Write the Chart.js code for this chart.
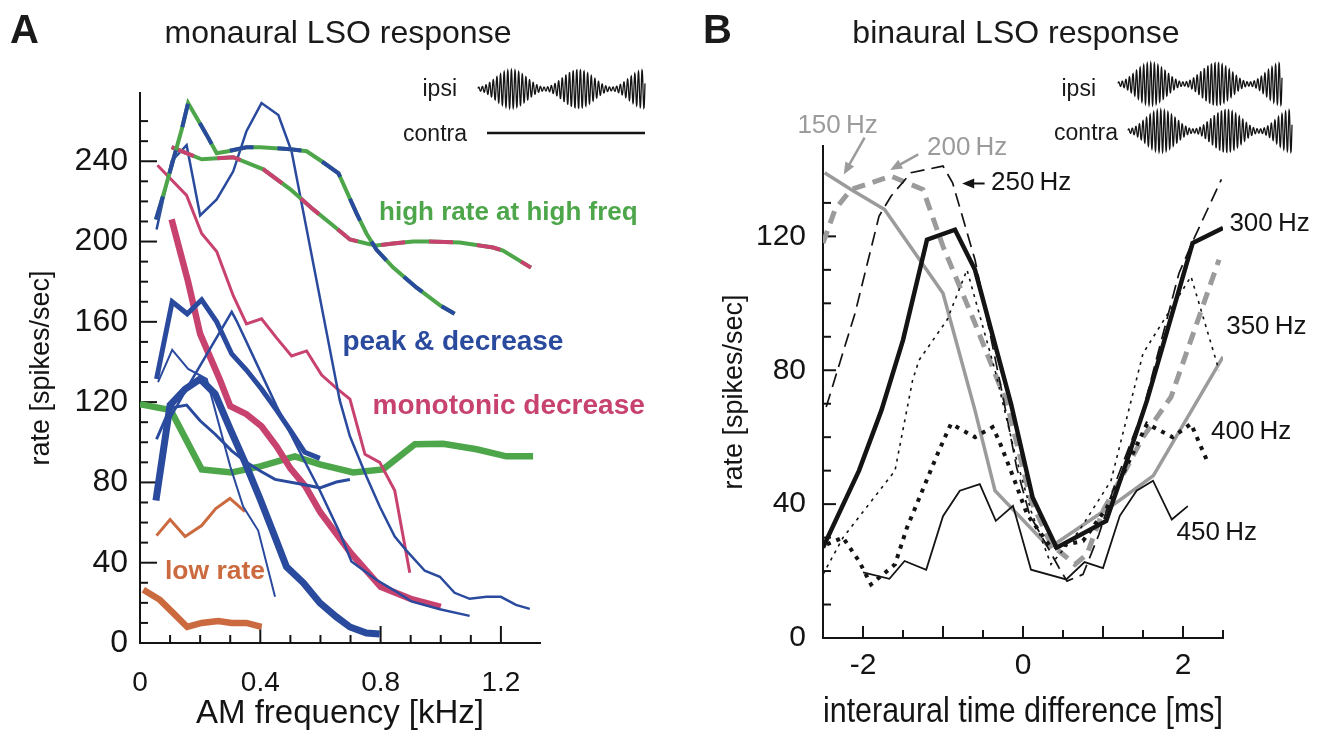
<!DOCTYPE html>
<html>
<head>
<meta charset="utf-8">
<title>LSO response</title>
<script src="https://cdn.jsdelivr.net/npm/chart.js@4.4.1/dist/chart.umd.min.js"></script>
<style>
  body { margin: 0; background: #fff; font-family: 'Liberation Sans', Arial, sans-serif; color: #1a1a1a; }
  #page { position: relative; width: 1324px; height: 730px; overflow: hidden; }
  #chartA, #chartB { position: absolute; top: 0; }
  #chartA { left: 0; }
  #chartB { left: 662px; }
  #waves { position: absolute; left: 0; top: 0; }
  .letter { position: absolute; top: 7px; font-size: 40px; font-weight: bold; }
  .title { position: absolute; top: 14px; font-size: 32px; transform: translateX(-50%); white-space: nowrap; }
  .stim { position: absolute; font-size: 23px; transform: translate(-100%, -50%); white-space: nowrap; }
</style>
</head>
<body>
<div id="page">
  <canvas id="chartA" width="662" height="730"></canvas>
  <canvas id="chartB" width="662" height="730"></canvas>
  <canvas id="waves" width="1324" height="170"></canvas>
  <div class="letter" style="left:10px">A</div>
  <div class="letter" style="left:703px">B</div>
  <div class="title" style="left:338px">monaural LSO response</div>
  <div class="title" style="left:1016px">binaural LSO response</div>
  <div class="stim" style="left:457px; top:88px">ipsi</div>
  <div class="stim" style="left:467px; top:133px">contra</div>
  <div class="stim" style="left:1096px; top:88px">ipsi</div>
  <div class="stim" style="left:1118px; top:132px">contra</div>
</div>
<script>
// ---- panel A : rate vs AM frequency [kHz] ----
const highRateGreenBlue = [[0.053, 211], [0.083, 226], [0.139, 256], [0.16, 269], [0.222, 253], [0.255, 244], [0.293, 245], [0.354, 247], [0.4, 247], [0.5, 246], [0.554, 245], [0.604, 240], [0.66, 234], [0.72, 214], [0.753, 204], [0.786, 196], [0.842, 187], [0.92, 177], [1.0, 168], [1.046, 164]];
const highRateGreenPink = [[0.105, 247], [0.205, 241], [0.31, 242], [0.41, 236], [0.5, 226], [0.576, 216], [0.642, 208], [0.698, 201], [0.753, 199], [0.786, 198], [0.842, 199], [0.908, 200], [0.963, 200], [1.063, 199.5], [1.174, 197], [1.207, 195.5], [1.3, 187]];
const highRateGreen = [[0, 119], [0.102, 116], [0.205, 86.5], [0.305, 85], [0.4, 88], [0.515, 93], [0.598, 89], [0.709, 85], [0.808, 86.5], [0.914, 99], [1.008, 99.3], [1.119, 96.5], [1.218, 93], [1.307, 93]];
const peakThin1 = [[0.055, 206], [0.105, 240], [0.155, 248], [0.2, 213], [0.255, 221], [0.31, 235], [0.354, 255], [0.404, 269], [0.46, 263], [0.504, 245], [0.664, 121], [0.698, 103], [0.753, 83], [0.797, 68], [0.847, 53], [0.886, 46], [0.947, 36], [0.997, 33], [1.046, 25], [1.096, 22], [1.152, 23], [1.2, 23], [1.25, 19], [1.296, 17]];
const peakThick1 = [[0.055, 131.5], [0.107, 170], [0.157, 164], [0.205, 171], [0.255, 160], [0.305, 144], [0.354, 136], [0.404, 126.5], [0.454, 116], [0.504, 105], [0.548, 95], [0.598, 92]];
const peakThick2 = [[0.053, 71], [0.1, 118.5], [0.15, 126.5], [0.2, 131.5], [0.25, 124], [0.3, 106.5], [0.349, 90], [0.4, 71.5], [0.443, 55], [0.487, 38], [0.543, 30], [0.598, 20], [0.653, 13], [0.698, 8], [0.753, 5], [0.797, 4.5]];
const peakThin2 = [[0.06, 130], [0.107, 146], [0.16, 136.5], [0.222, 131.5], [0.3, 88], [0.343, 68], [0.393, 56], [0.449, 23]];
const peakThin3 = [[0.1, 112], [0.16, 128], [0.305, 165], [0.321, 160.5], [0.354, 150], [0.454, 118], [0.532, 95], [0.598, 76], [0.664, 55], [0.703, 40.6], [0.786, 31.5], [0.842, 26.5], [0.903, 20.7], [0.997, 16.8], [1.096, 13.5]];
const peakThin4 = [[0.055, 101.5], [0.1, 117], [0.155, 118.5], [0.2, 110.7], [0.25, 104], [0.305, 95.7], [0.354, 90], [0.4, 85.7], [0.449, 81.5], [0.543, 79], [0.598, 77.3], [0.653, 80.2], [0.698, 81.5]];
const monoThick = [[0.105, 211], [0.16, 180], [0.2, 154], [0.266, 131], [0.3, 118], [0.354, 114], [0.404, 108], [0.454, 98], [0.5, 87], [0.55, 78], [0.6, 65], [0.7, 45], [0.8, 28], [0.9, 22], [1.0, 18]];
const monoThin = [[0.058, 238], [0.155, 223], [0.205, 204], [0.255, 195], [0.31, 173], [0.354, 159], [0.404, 161.5], [0.454, 152], [0.504, 143], [0.554, 145.5], [0.604, 133.5], [0.653, 127], [0.698, 121.5], [0.748, 94], [0.797, 90], [0.847, 76], [0.897, 35]];
const lowRateThin = [[0.055, 53.5], [0.1, 61.5], [0.15, 53], [0.205, 58.5], [0.252, 67], [0.299, 72], [0.349, 65.5]];
const lowRateThick = [[0.011, 26.5], [0.066, 21.5], [0.11, 15], [0.157, 8], [0.205, 10], [0.26, 11], [0.305, 10], [0.354, 10], [0.404, 8]];

// ---- panel B : rate vs interaural time difference [ms] ----
const itd150 = [[-2.48, 139], [-2.15, 134], [-1.73, 128], [-1.0, 103], [-0.6, 68], [-0.35, 44], [0.33, 27], [1.2, 41], [1.63, 48.5], [2.5, 84]];
const itd200 = [[-2.5, 118], [-2.35, 128], [-2.15, 134], [-1.65, 138], [-1.25, 134], [-1.0, 117], [-0.6, 94], [-0.2, 70], [0.1, 41], [0.35, 28], [0.65, 22], [0.8, 25], [1.0, 38], [1.3, 51], [1.5, 60], [1.85, 72], [2.45, 113]];
const itd250 = [[-2.46, 69], [-2.1, 97], [-1.8, 126], [-1.65, 132], [-1.4, 139], [-1.0, 141], [-0.88, 136], [-0.6, 113], [-0.25, 72], [-0.08, 51], [0.08, 37], [0.45, 21], [0.55, 17], [0.75, 19], [0.95, 31], [1.15, 46], [1.5, 68], [1.95, 109], [2.15, 120], [2.48, 137]];
const itd300 = [[-2.5, 27], [-2.05, 50], [-1.77, 68], [-1.5, 89], [-1.2, 119], [-0.85, 122], [-0.6, 110], [-0.15, 70], [0.12, 42], [0.42, 27], [1.04, 35], [1.3, 53], [1.55, 71], [2.12, 118], [2.5, 122.5]];
const itd350 = [[-2.5, 19], [-2.25, 30], [-1.6, 50], [-1.38, 77], [-1.3, 83], [-0.95, 95], [-0.7, 110], [-0.35, 80], [-0.1, 55], [0.1, 38], [0.35, 22], [0.7, 32], [1.1, 47], [1.5, 85], [2.1, 108], [2.45, 80]];
const itd400 = [[-2.45, 28], [-2.25, 30], [-2.05, 23], [-1.9, 16], [-1.6, 22], [-1.45, 33], [-1.05, 56], [-0.9, 64], [-0.6, 60], [-0.38, 63], [-0.3, 59], [-0.12, 48], [0.05, 37], [0.35, 27], [0.75, 29], [1.05, 39], [1.25, 49], [1.55, 64], [1.87, 60], [2.1, 64], [2.3, 53]];
const itd450 = [[-2.0, 19.6], [-1.67, 17.7], [-1.48, 23], [-1.21, 20.4], [-1.0, 36.4], [-0.79, 44], [-0.54, 46], [-0.34, 35], [-0.125, 39.5], [0.1, 20.4], [0.54, 17.5], [0.77, 22.7], [1.0, 20.9], [1.21, 36.5], [1.42, 44], [1.625, 47], [1.86, 35.4], [2.06, 39.4]];

const BLUE = '#2a4a9e', GREEN = '#4da64a', PINK = '#c8426f', ORANGE = '#cc6a3f', GRAY = '#9b9b9b', INK = '#141414';

Chart.defaults.font.family = "'Liberation Sans', Arial, sans-serif";
Chart.defaults.color = INK;

const pts = (arr) => arr.map(p => ({ x: p[0], y: p[1] }));
const isMult = (v, step) => Math.abs(v / step - Math.round(v / step)) < 1e-6;

function line(data, color, width, dash) {
  return {
    data: pts(data),
    borderColor: color,
    borderWidth: width,
    borderDash: dash || [],
    pointRadius: 0,
    fill: false,
    tension: 0
  };
}

// small ticks pointing into the plot, longer at labelled values
const inTicks = {
  id: 'inTicks',
  beforeDatasetsDraw(chart, args, opts) {
    const ctx = chart.ctx;
    const area = chart.chartArea;
    const xs = chart.scales.x;
    const ys = chart.scales.y;
    ctx.save();
    ctx.strokeStyle = INK;
    ctx.lineWidth = 2;
    xs.ticks.forEach(t => {
      const px = xs.getPixelForValue(t.value);
      const len = isMult(t.value, opts.xMajor) ? opts.xLong : opts.xShort;
      ctx.beginPath();
      ctx.moveTo(px, area.bottom);
      ctx.lineTo(px, area.bottom - len);
      ctx.stroke();
    });
    ys.ticks.forEach(t => {
      const py = ys.getPixelForValue(t.value);
      const len = isMult(t.value, opts.yMajor) ? opts.yLong : opts.yShort;
      ctx.beginPath();
      ctx.moveTo(area.left, py);
      ctx.lineTo(area.left + len, py);
      ctx.stroke();
    });
    ctx.restore();
  }
};

// text labels and arrows placed in data coordinates
const notes = {
  id: 'notes',
  afterDatasetsDraw(chart, args, opts) {
    const ctx = chart.ctx;
    const xs = chart.scales.x;
    const ys = chart.scales.y;
    ctx.save();
    (opts.arrows || []).forEach(a => {
      const x0 = xs.getPixelForValue(a.from[0]), y0 = ys.getPixelForValue(a.from[1]);
      const x1 = xs.getPixelForValue(a.to[0]), y1 = ys.getPixelForValue(a.to[1]);
      const ang = Math.atan2(y1 - y0, x1 - x0);
      ctx.strokeStyle = a.color;
      ctx.fillStyle = a.color;
      ctx.lineWidth = a.width;
      ctx.beginPath();
      ctx.moveTo(x0, y0);
      ctx.lineTo(x1 - 8 * Math.cos(ang), y1 - 8 * Math.sin(ang));
      ctx.stroke();
      ctx.beginPath();
      ctx.moveTo(x1, y1);
      ctx.lineTo(x1 - 12 * Math.cos(ang) + 5 * Math.sin(ang), y1 - 12 * Math.sin(ang) - 5 * Math.cos(ang));
      ctx.lineTo(x1 - 12 * Math.cos(ang) - 5 * Math.sin(ang), y1 - 12 * Math.sin(ang) + 5 * Math.cos(ang));
      ctx.closePath();
      ctx.fill();
    });
    (opts.labels || []).forEach(l => {
      ctx.font = l.font;
      ctx.fillStyle = l.color;
      ctx.textAlign = 'left';
      ctx.textBaseline = 'middle';
      ctx.fillText(l.text, xs.getPixelForValue(l.at[0]), ys.getPixelForValue(l.at[1]));
    });
    ctx.restore();
  }
};

function axis(opts) {
  return {
    type: 'linear',
    min: opts.min,
    max: opts.max,
    afterBuildTicks: s => { s.ticks = s.ticks.filter(t => isMult(t.value, opts.step)); },
    afterFit: s => { if (opts.width) s.width = opts.width; if (opts.height) s.height = opts.height; },
    ticks: {
      stepSize: opts.step,
      autoSkip: false,
      maxRotation: 0,
      padding: opts.pad,
      font: { size: opts.tickSize },
      color: INK,
      callback: v => isMult(v, opts.every) ? String(Math.round(v * 10) / 10) : ''
    },
    grid: { display: false, drawTicks: false },
    border: { display: true, color: INK, width: 2 },
    title: { display: true, text: opts.title, font: { size: opts.titleSize, lineHeight: opts.titleLH || 1.2 }, color: INK, padding: opts.titlePad }
  };
}

const boldNote = (size) => 'bold ' + size + 'px "Liberation Sans", Arial, sans-serif';
const bandWidth = 4;
new Chart(document.getElementById('chartA'), {
  type: 'line',
  data: {
    datasets: [
      line(highRateGreenBlue, BLUE, bandWidth, [24, 24]),
      line(highRateGreenBlue, GREEN, bandWidth),
      line(highRateGreenPink, PINK, bandWidth, [24, 24]),
      line(highRateGreenPink, GREEN, bandWidth),
      line(peakThin1, BLUE, 2.5),
      line(peakThick1, BLUE, 5),
      line(peakThin2, BLUE, 2),
      line(peakThin3, BLUE, 2.5),
      line(peakThin4, BLUE, 3),
      line(peakThick2, BLUE, 7),
      line(monoThin, PINK, 3),
      line(monoThick, PINK, 6.5),
      line(highRateGreen, GREEN, 6.5),
      line(lowRateThin, ORANGE, 3),
      line(lowRateThick, ORANGE, 6.5)
    ]
  },
  options: {
    responsive: false,
    animation: false,
    events: [],
    layout: { padding: { top: 93, right: 122, left: 0, bottom: 0 } },
    plugins: {
      legend: { display: false },
      tooltip: { enabled: false },
      inTicks: { xMajor: 0.4, xLong: 17, xShort: 8, yMajor: 40, yLong: 17, yShort: 8 },
      notes: {
        labels: [
          { text: 'high rate at high freq', at: [0.795, 214.5], color: GREEN, font: boldNote(26) },
          { text: 'peak & decrease', at: [0.673, 150], color: BLUE, font: boldNote(28) },
          { text: 'monotonic decrease', at: [0.773, 118], color: PINK, font: boldNote(28) },
          { text: 'low rate', at: [0.083, 35.5], color: ORANGE, font: boldNote(26.5) }
        ]
      }
    },
    scales: {
      x: axis({ min: 0, max: 1.33, step: 0.1, every: 0.4, pad: 23, tickSize: 28, height: 87, title: 'AM frequency [kHz]', titleSize: 33, titleLH: 1, titlePad: { top: 0, bottom: 0 } }),
      y: axis({ min: 0, max: 274, step: 10, every: 40, pad: 12, tickSize: 32, width: 140, title: 'rate [spikes/sec]', titleSize: 27, titlePad: { top: 25, bottom: 0 } })
    }
  },
  plugins: [inTicks, notes]
});

const hzFont = '26px "Liberation Sans", Arial, sans-serif';
new Chart(document.getElementById('chartB'), {
  type: 'line',
  data: {
    datasets: [
      line(itd300, INK, 4.5),
      line(itd250, INK, 1.7, [14, 7]),
      line(itd350, INK, 1.6, [3, 5]),
      line(itd400, INK, 4, [4, 6]),
      line(itd450, INK, 1.8),
      line(itd200, GRAY, 5, [13, 8]),
      line(itd150, GRAY, 3.5)
    ]
  },
  options: {
    responsive: false,
    animation: false,
    events: [],
    layout: { padding: { top: 146, right: 101, left: 0, bottom: 0 } },
    plugins: {
      legend: { display: false },
      tooltip: { enabled: false },
      inTicks: { xMajor: 1, xLong: 12, xShort: 8, yMajor: 40, yLong: 13, yShort: 8 },
      notes: {
        arrows: [
          { from: [-1.98, 149.5], to: [-2.24, 138.5], color: GRAY, width: 2.5 },
          { from: [-1.31, 144.5], to: [-1.66, 139.8], color: GRAY, width: 2.5 },
          { from: [-0.48, 135.8], to: [-0.76, 135.8], color: INK, width: 2 }
        ],
        labels: [
          { text: '150\u2009Hz', at: [-2.82, 153], color: GRAY, font: hzFont },
          { text: '200\u2009Hz', at: [-1.2, 146.6], color: GRAY, font: hzFont },
          { text: '250\u2009Hz', at: [-0.4, 136], color: INK, font: hzFont },
          { text: '300\u2009Hz', at: [2.58, 123.6], color: INK, font: hzFont },
          { text: '350\u2009Hz', at: [2.54, 93], color: INK, font: hzFont },
          { text: '400\u2009Hz', at: [2.35, 61.7], color: INK, font: hzFont },
          { text: '450\u2009Hz', at: [1.92, 31.3], color: INK, font: hzFont }
        ]
      }
    },
    scales: {
      x: axis({ min: -2.5, max: 2.5, step: 0.5, every: 2, pad: 10, tickSize: 30, height: 92, title: 'interaural time difference [ms]', titleSize: 34.5, titleLH: 1, titlePad: { top: 0, bottom: 0 } }),
      y: axis({ min: 0, max: 147, step: 10, every: 40, pad: 17, tickSize: 30, width: 161, title: 'rate [spikes/sec]', titleSize: 27, titlePad: { top: 56, bottom: 0 } })
    }
  },
  plugins: [inTicks, notes]
});

// stimulus sketches (ipsi / contra) above each panel
const wctx = document.getElementById('waves').getContext('2d');
function amSketch(x0, x1, cy, amp) {
  wctx.beginPath();
  for (let i = 0; i <= 1200; i++) {
    const t = i / 1200;
    const env = 0.1 + 0.9 * (1 - Math.cos(2 * Math.PI * 2.5 * t)) / 2;
    const y = cy - amp * env * Math.sin(2 * Math.PI * 46 * t + 0.3);
    if (i === 0) wctx.moveTo(x0, y); else wctx.lineTo(x0 + t * (x1 - x0), y);
  }
  wctx.stroke();
}
wctx.strokeStyle = INK;
wctx.lineWidth = 1.3;
amSketch(478, 645, 89, 19);
amSketch(1118, 1282, 84, 21);
amSketch(1128, 1292, 131, 21);
wctx.lineWidth = 2.5;
wctx.beginPath();
wctx.moveTo(487, 133);
wctx.lineTo(645, 133);
wctx.stroke();
</script>
</body>
</html>
